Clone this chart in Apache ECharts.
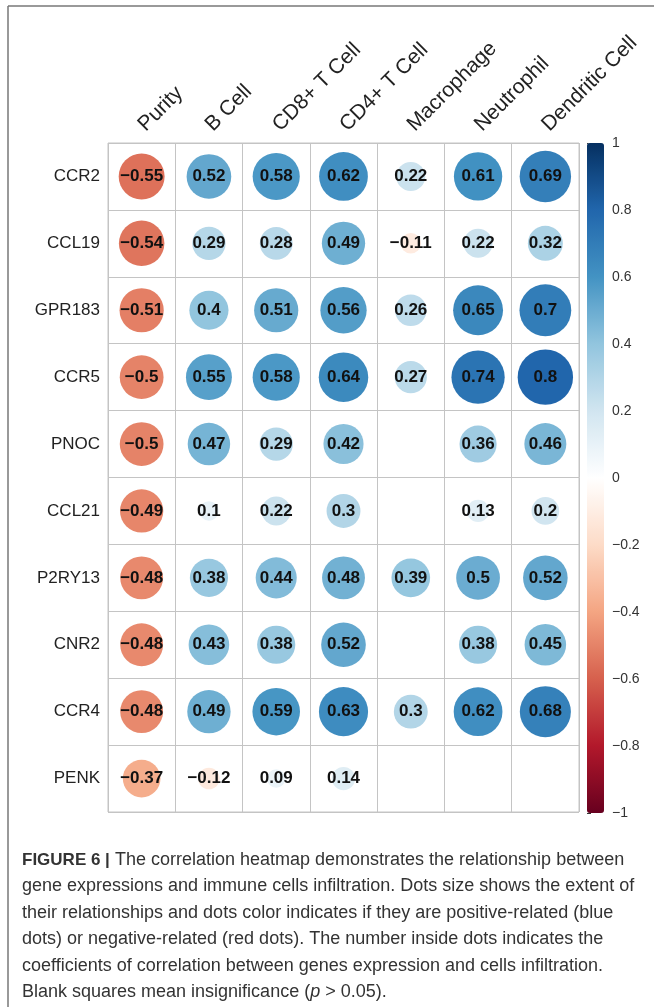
<!DOCTYPE html>
<html>
<head>
<meta charset="utf-8">
<script src="https://cdn.jsdelivr.net/npm/echarts@6/dist/echarts.min.js"></script>
<style>
  html, body { margin: 0; padding: 0; background: #fff; }
  #chart { width: 654px; height: 1007px; }
</style>
</head>
<body>
<div id="chart"></div>
<script>
// Immune cell types (columns) and genes (rows)
const cells = ['Purity', 'B Cell', 'CD8+ T Cell', 'CD4+ T Cell', 'Macrophage', 'Neutrophil', 'Dendritic Cell'];
const genes = ['CCR2', 'CCL19', 'GPR183', 'CCR5', 'PNOC', 'CCL21', 'P2RY13', 'CNR2', 'CCR4', 'PENK'];

// Correlation coefficients per gene, in the order of `cells`; null = not significant
const CCR2   = [-0.55, 0.52, 0.58, 0.62, 0.22, 0.61, 0.69];
const CCL19  = [-0.54, 0.29, 0.28, 0.49, -0.11, 0.22, 0.32];
const GPR183 = [-0.51, 0.4, 0.51, 0.56, 0.26, 0.65, 0.7];
const CCR5   = [-0.5, 0.55, 0.58, 0.64, 0.27, 0.74, 0.8];
const PNOC   = [-0.5, 0.47, 0.29, 0.42, null, 0.36, 0.46];
const CCL21  = [-0.49, 0.1, 0.22, 0.3, null, 0.13, 0.2];
const P2RY13 = [-0.48, 0.38, 0.44, 0.48, 0.39, 0.5, 0.52];
const CNR2   = [-0.48, 0.43, 0.38, 0.52, null, 0.38, 0.45];
const CCR4   = [-0.48, 0.49, 0.59, 0.63, 0.3, 0.62, 0.68];
const PENK   = [-0.37, -0.12, 0.09, 0.14, null, null, null];

const rows = [CCR2, CCL19, GPR183, CCR5, PNOC, CCL21, P2RY13, CNR2, CCR4, PENK];

// Colour bar ticks
const barTicks = [-1, -0.8, -0.6, -0.4, -0.2, 0, 0.2, 0.4, 0.6, 0.8, 1];

// Diverging palette, low (-1) to high (+1)
const palette = ['#67001F', '#B2182B', '#D6604D', '#F4A582', '#FDDBC7', '#FFFFFF',
                 '#D1E5F0', '#92C5DE', '#4393C3', '#2166AC', '#053061'];

const captionLines = [
  'The correlation heatmap demonstrates the relationship between',
  'gene expressions and immune cells infiltration. Dots size shows the extent of',
  'their relationships and dots color indicates if they are positive-related (blue',
  'dots) or negative-related (red dots). The number inside dots indicates the',
  'coefficients of correlation between genes expression and cells infiltration.',
  'Blank squares mean insignificance ({i|p} > 0.05).'
];

const points = [];
rows.forEach((vals, gi) => {
  vals.forEach((v, ci) => {
    if (v !== null) points.push([ci, gi, v]);
  });
});

const fmt = v => String(v).replace('-', '\u2212');

const FONT = '"Liberation Sans", Arial, sans-serif';
const gridLeft = 108, gridTop = 143, gridW = 471, gridH = 669;
const cellW = gridW / cells.length;

const chart = echarts.init(document.getElementById('chart'), null, { renderer: 'canvas' });

const captionGraphics = captionLines.map((t, i) => ({
  type: 'text',
  x: 22,
  y: 860 + i * 26.4,
  style: {
    text: i === 0 ? '{b|FIGURE 6 |} ' + t : t,
    font: '18px ' + FONT,
    fill: '#333',
    verticalAlign: 'middle',
    rich: {
      b: { fontWeight: 'bold', fontSize: 17, fontFamily: FONT, fill: '#333' },
      i: { fontStyle: 'italic', fontSize: 18, fontFamily: FONT, fill: '#333' }
    }
  }
}));

chart.setOption({
  animation: false,
  backgroundColor: '#fff',
  textStyle: { fontFamily: FONT },
  grid: [
    {
      left: gridLeft, top: gridTop, width: gridW, height: gridH,
      show: true, borderColor: '#c4c4c4', borderWidth: 1,
      outerBoundsMode: 'none'
    },
    {
      left: 587, top: gridTop, width: 17, height: 670,
      outerBoundsMode: 'none'
    }
  ],
  xAxis: [
    {
      type: 'category', gridIndex: 0, data: cells, position: 'top',
      boundaryGap: true,
      axisLine: { show: false }, axisTick: { show: false },
      axisLabel: { interval: 0, rotate: -45, margin: 15, fontSize: 21, color: '#222', fontFamily: FONT },
      splitLine: { show: true, interval: 0, lineStyle: { color: '#c4c4c4', width: 1 } }
    },
    {
      type: 'value', gridIndex: 1, show: false
    }
  ],
  yAxis: [
    {
      type: 'category', gridIndex: 0, data: genes, inverse: true,
      boundaryGap: true,
      axisLine: { show: false }, axisTick: { show: false },
      axisLabel: { interval: 0, margin: 8, fontSize: 17, color: '#222', fontFamily: FONT },
      splitLine: { show: true, interval: 0, lineStyle: { color: '#c4c4c4', width: 1 } }
    },
    {
      type: 'value', gridIndex: 1, position: 'right',
      min: -1, max: 1, interval: 0.2,
      axisLine: { show: false },
      axisTick: { show: true, length: 4, lineStyle: { color: '#333', width: 1 } },
      splitLine: { show: false },
      axisLabel: {
        margin: 8, fontSize: 14, color: '#333', fontFamily: FONT,
        formatter: v => {
          const hit = barTicks.find(t => Math.abs(t - v) < 1e-6);
          return hit === undefined ? '' : fmt(hit);
        }
      }
    }
  ],
  visualMap: {
    type: 'continuous',
    seriesIndex: 0,
    dimension: 2,
    min: -1, max: 1,
    calculable: false,
    orient: 'vertical',
    left: 587, top: gridTop,
    itemWidth: 17, itemHeight: 670,
    padding: 0,
    inRange: { color: palette }
  },
  series: [
    {
      type: 'scatter',
      xAxisIndex: 0, yAxisIndex: 0,
      data: points,
      symbol: 'circle',
      symbolSize: d => cellW * 0.92 * Math.sqrt(Math.abs(d[2])),
      itemStyle: { opacity: 1 },
      label: {
        show: true, position: 'inside',
        formatter: p => fmt(p.data[2]),
        fontSize: 17, fontWeight: 'bold', color: '#111', fontFamily: FONT
      },
      emphasis: { disabled: true }
    }
  ],
  graphic: [
    { type: 'line', shape: { x1: 8, y1: 6, x2: 654, y2: 6 }, style: { stroke: '#777', lineWidth: 1.5 } },
    { type: 'line', shape: { x1: 8, y1: 6, x2: 8, y2: 1007 }, style: { stroke: '#777', lineWidth: 1.5 } }
  ].concat(captionGraphics)
});
</script>
</body>
</html>
